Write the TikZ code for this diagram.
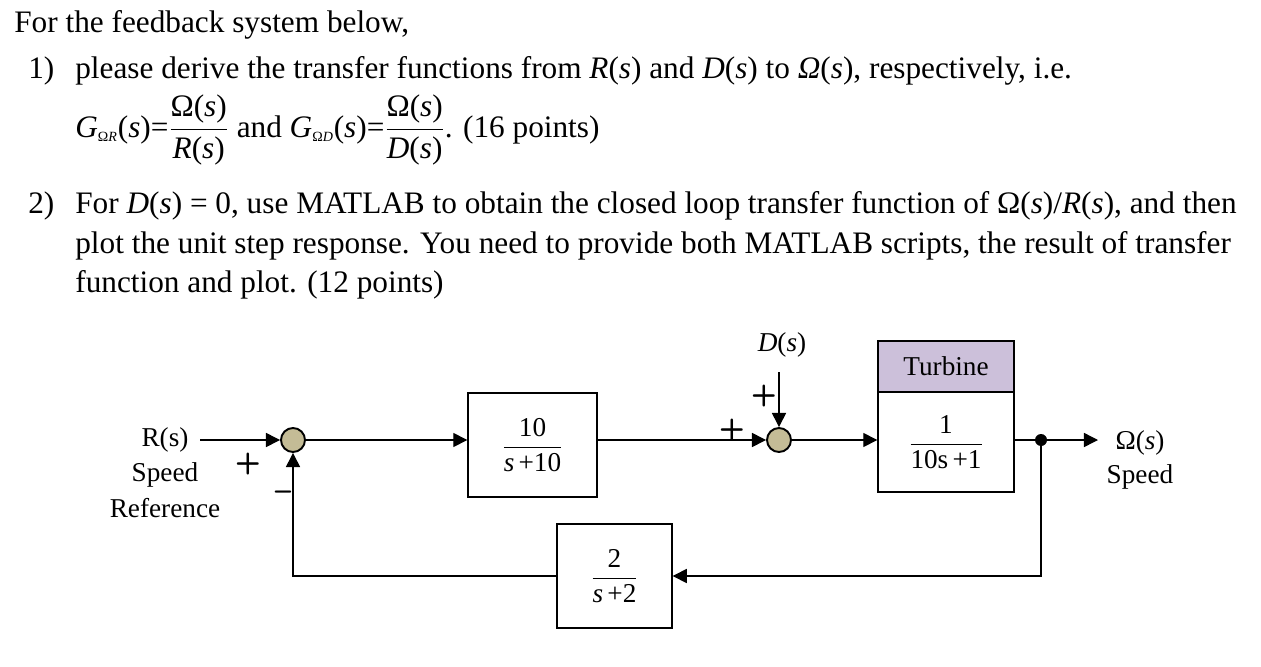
\documentclass[tikz,border=0pt]{standalone}
\usepackage{amsmath}
\usepackage{fontspec}
\setmainfont{Liberation Serif}
\usetikzlibrary{arrows.meta}
\definecolor{sumfill}{RGB}{196,188,150}
\definecolor{turb}{RGB}{204,192,218}
\newcommand{\ti}[1]{\text{\textit{#1}}}
\newcommand{\tr}[1]{\text{#1}}
\begin{document}
\begin{tikzpicture}[x=0.02cm,y=-0.02cm,
  txt/.style={font=\fontsize{17.8}{20}\selectfont,inner sep=0,anchor=base west},
  dtxt/.style={font=\fontsize{15.5}{18}\selectfont,inner sep=0},
  blk/.style={draw,line width=0.8pt,minimum width=0pt,inner sep=0},
  sumn/.style={circle,draw,line width=1.1pt,fill=sumfill,minimum size=0.48cm,inner sep=0},
  sig/.style={line width=0.8pt,-{Triangle[length=8pt,width=8pt]}},
  ln/.style={line width=0.8pt},
  sgn/.style={font=\fontsize{17}{18}\bfseries\sffamily,inner sep=0}]
\useasboundingbox (0,0) rectangle (1261,666);
% question text
\node[txt] (t0) at (14,32) {For the feedback system below,};
\node[txt] (n1) at (28,78) {1)};
\node[txt] (t1) at (75,78) {please derive the transfer functions from \textit{R}(\textit{s}) and \textit{D}(\textit{s}) to \textit{Ω}(\textit{s}), respectively, i.e.};
\node[txt,anchor=west] (t2) at (75,130) {$\ti{G}_{\tr{\footnotesize Ω}\ti{\footnotesize R}}\tr{(\textit{s})=}\dfrac{\tr{Ω(\textit{s})}}{\tr{\textit{R}(\textit{s})}}$ and $\ti{G}_{\tr{\footnotesize Ω}\ti{\footnotesize D}}\tr{(\textit{s})=}\dfrac{\tr{Ω(\textit{s})}}{\tr{\textit{D}(\textit{s})}}$. (16 points)};
\node[txt] (n2) at (28,213) {2)};
\node[txt] (t3) at (75,213) {For \textit{D}(\textit{s}) = 0, use MATLAB to obtain the closed loop transfer function of Ω(\textit{s})/\textit{R}(\textit{s}), and then};
\node[txt] (t4) at (75,253) {plot the unit step response. You need to provide both MATLAB scripts, the result of transfer};
\node[txt] (t5) at (75,292) {function and plot. (12 points)};
% diagram
\node[sumn] (s1) at (293,440) {};
\node[sumn] (s2) at (779,440) {};
\node[blk,minimum width=2.58cm,minimum height=2.08cm] (b1) at (532.5,445) {};
\node[dtxt] (f1) at (b1) {$\dfrac{\tr{10}}{\ti{s}\,\tr{+}\tr{10}}$};
\node[blk,fill=turb,minimum width=2.72cm,minimum height=1.02cm] (tb) at (946,366.5) {};
\node[dtxt] (tbl) at (tb) {Turbine};
\node[blk,minimum width=2.72cm,minimum height=2.0cm] (b2) at (946,442) {};
\node[dtxt] (f2) at (b2) {$\dfrac{\tr{1}}{\tr{10s}\,\tr{+}\tr{1}}$};
\node[blk,minimum width=2.3cm,minimum height=2.08cm] (b3) at (614.5,576) {};
\node[dtxt] (f3) at (b3) {$\dfrac{\tr{2}}{\ti{s}\,\tr{+}\tr{2}}$};
\node[dtxt] (rl) at (165,440) {R(s)};
\node[dtxt] (sp1) at (165,475) {Speed};
\node[dtxt] (ref) at (165,508) {Reference};
\node[dtxt] (ds) at (782,345) {\textit{D}(\textit{s})};
\node[dtxt] (om) at (1140,443) {Ω(\textit{s})};
\node[dtxt] (sp2) at (1140,477) {Speed};
\node[sgn] (p1) at (248,464) {+};
\node[sgn] (m1) at (283,496) {–};
\node[sgn] (p2) at (764,396) {+};
\node[sgn] (p3) at (732,430) {+};
\coordinate (rin) at (200,440);
\coordinate (din) at (779,372);
\coordinate (br) at (1041,440);
\coordinate (oout) at (1098,440);
\fill (br) circle (0.12cm);
\draw[sig] (rin) -- (s1);
\draw[sig] (s1) -- (s1 -| b1.west);
\draw[sig] (s2 -| b1.east) -- (s2);
\draw[sig] (din) -- (s2);
\draw[sig] (s2) -- (s2 -| b2.west);
\draw[ln] (br -| b2.east) -- (br);
\draw[sig] (br) -- (oout);
\draw[sig] (br) |- (b3.east);
\draw[sig] (b3.west) -| (s1.south);
\end{tikzpicture}
\end{document}
